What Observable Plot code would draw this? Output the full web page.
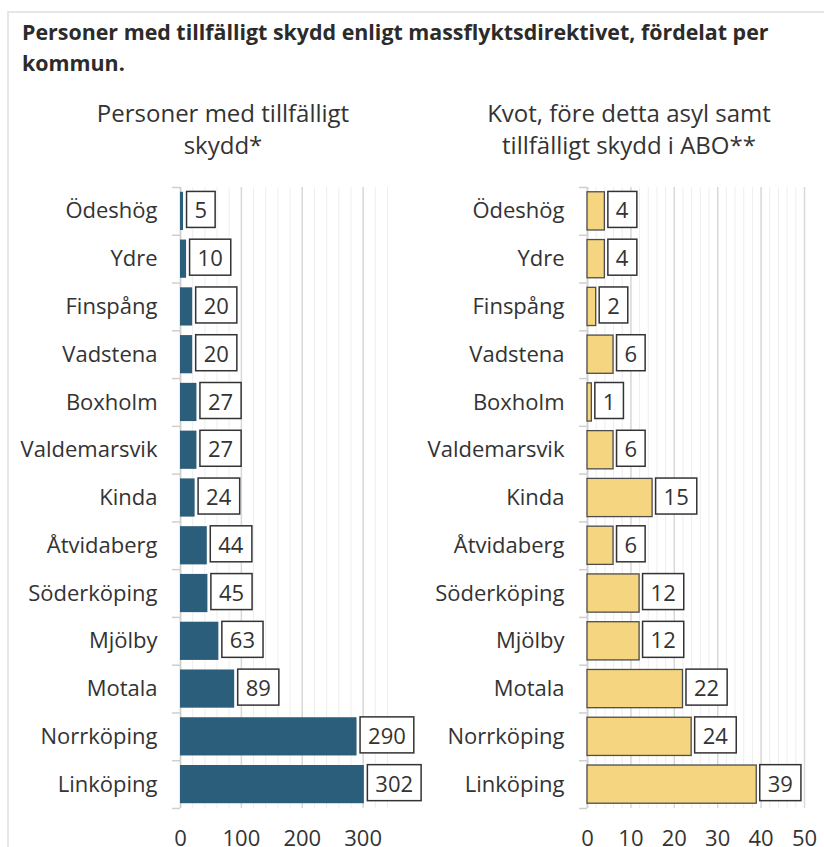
<!DOCTYPE html>
<html><head><meta charset="utf-8">
<script src="https://cdn.jsdelivr.net/npm/d3@7"></script>
<script src="https://cdn.jsdelivr.net/npm/@observablehq/plot@0.6"></script>
<style>
body{margin:0;background:#fff;font-family:"Open Sans",sans-serif;color:#333;width:824px;height:847px;overflow:hidden;position:relative}
#frame{position:absolute;left:7px;top:11px;width:900px;height:900px;border:2px solid #e6e6e6;box-sizing:border-box}
#title{position:absolute;left:22px;top:16px;width:785px;font-weight:700;font-size:21.4px;line-height:31px;color:#2b2b2b}
.ptitle{position:absolute;top:97px;width:420px;text-align:center;font-size:24px;line-height:32px;color:#333}
#p1{left:13px}#p2{left:419px}
.chart{position:absolute;top:180px}
#c1{left:0}#c2{left:420px}
</style></head><body>
<div id="frame"></div>
<div id="title">Personer med tillfälligt skydd enligt massflyktsdirektivet, fördelat per kommun.</div>
<div class="ptitle" id="p1">Personer med tillfälligt<br>skydd*</div>
<div class="ptitle" id="p2">Kvot, före detta asyl samt<br>tillfälligt skydd i ABO**</div>
<div class="chart" id="c1"></div>
<div class="chart" id="c2"></div>
<script>
const kommuner = ["Ödeshög","Ydre","Finspång","Vadstena","Boxholm","Valdemarsvik","Kinda","Åtvidaberg","Söderköping","Mjölby","Motala","Norrköping","Linköping"];
const personer = [5,10,20,20,27,27,24,44,45,63,89,290,302];
const kvot = [4,4,2,6,1,6,15,6,12,12,22,24,39];
const ticksPersoner = [0,100,200,300];
const ticksKvot = [0,10,20,30,40,50];

function panel({values, domainMax, major, minorStep, fill, stroke, width, marginLeft, marginRight}) {
  const height = 667, marginTop = 7, marginBottom = 39;
  const step = (height - marginTop - marginBottom) / kommuner.length;
  const pxPerUnit = (width - marginLeft - marginRight) / domainMax;
  const tickLen = 8 / pxPerUnit;
  const data = kommuner.map((k, i) => ({k, v: values[i]}));
  const minor = d3.range(0, domainMax + 1e-9, minorStep);
  return Plot.plot({
    width, height, marginTop, marginBottom, marginLeft, marginRight,
    style: {fontFamily: "Open Sans", fontSize: "22px", color: "#333", background: "transparent", overflow: "visible"},
    x: {domain: [0, domainMax], axis: null},
    y: {domain: kommuner, paddingInner: 0.2, paddingOuter: 0.1, round: false, axis: null},
    marks: [
      Plot.ruleX(minor, {stroke: "#eeeeee", strokeWidth: 1}),
      Plot.ruleX(major, {stroke: "#d9d9d9", strokeWidth: 1.5}),
      Plot.ruleX([0], {stroke: "#cfcfcf", strokeWidth: 1.5}),
      Plot.ruleY(kommuner, {y: d => d, dy: -step / 2, x1: -tickLen, x2: 0, stroke: "#cfcfcf", strokeWidth: 1.5}),
      Plot.ruleY([kommuner[kommuner.length - 1]], {y: d => d, dy: step / 2, x1: -tickLen, x2: 0, stroke: "#cfcfcf", strokeWidth: 1.5}),
      Plot.barX(data, {y: "k", x: "v", fill, stroke, strokeWidth: stroke ? 1.3 : 0}),
      Plot.text(data, {y: "k", x: "v", text: d => String(d.v), textAnchor: "start", dx: 11, fontSize: 22, fill: "#333"}),
      Plot.axisX({ticks: major, tickSize: 0, tickPadding: 22, fontSize: 22, label: null}),
      Plot.axisY({tickSize: 0, tickPadding: 23, fontSize: 22, label: null})
    ]
  });
}

function boxLabels(svg) {
  svg.querySelectorAll('g[aria-label="text"] text').forEach(t => {
    const b = t.getBBox();
    const pad = 8, h = 36;
    const r = document.createElementNS("http://www.w3.org/2000/svg", "rect");
    r.setAttribute("x", b.x - pad);
    r.setAttribute("width", b.width + 2 * pad);
    r.setAttribute("y", b.y + b.height / 2 - h / 2);
    r.setAttribute("height", h);
    r.setAttribute("fill", "#fff");
    r.setAttribute("stroke", "#333");
    r.setAttribute("stroke-width", "1.5");
    if (t.getAttribute("transform")) r.setAttribute("transform", t.getAttribute("transform"));
    t.parentNode.insertBefore(r, t);
  });
}

const s1 = panel({values: personer, domainMax: 340, major: ticksPersoner, minorStep: 20, fill: "#2b5e7b", stroke: null, width: 420, marginLeft: 180, marginRight: 33});
document.getElementById("c1").appendChild(s1);
boxLabels(s1);
const s2 = panel({values: kvot, domainMax: 50, major: ticksKvot, minorStep: 2, fill: "#f5d57f", stroke: "#4d4d4d", width: 404, marginLeft: 167, marginRight: 20});
document.getElementById("c2").appendChild(s2);
boxLabels(s2);
</script>
</body></html>
